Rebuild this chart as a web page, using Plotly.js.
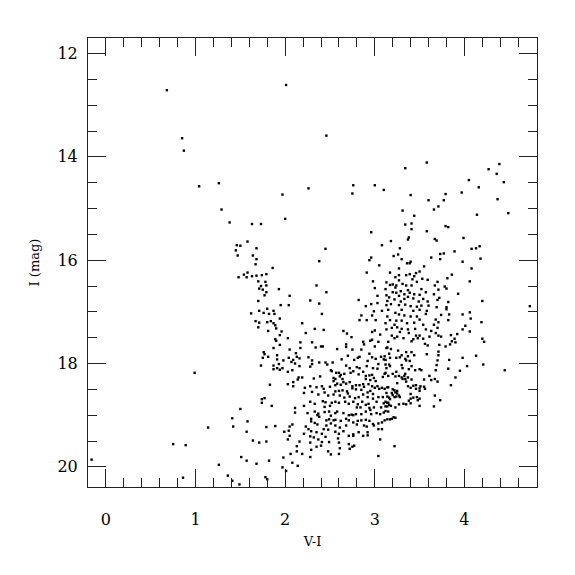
<!DOCTYPE html>
<html>
<head>
<meta charset="utf-8">
<script src="https://cdn.plot.ly/plotly-3.0.1.min.js"></script>
<style>html,body{margin:0;padding:0;background:#fff;}</style>
</head>
<body>
<div id="chart" style="width:575px;height:575px;"></div>
<script>
// V-I colour and I magnitude of each star
const viBright = [0.68,0.85,0.87,1.04,1.26,2.01,2.46,2.26,2.76,3.00,3.10,3.34,3.58,4.39,4.27,4.36,4.05,4.44,4.16,
  1.29,1.38,1.46,1.45,1.47,1.48];
const iBright = [12.71,13.64,13.88,14.57,14.51,12.61,13.59,14.61,14.55,14.55,14.64,14.22,14.11,14.14,14.24,14.33,14.45,14.49,14.59,
  15.02,15.27,15.71,15.81,15.91,16.33];

const viBlue = [2.75,1.97,2.00,1.63,1.73,2.96,1.58,3.08,1.50,1.68,2.45,1.64,2.96,2.94,1.68,2.38,1.67,3.05,1.86,2.91,
  1.58,1.54,1.79,1.74,1.57,1.63,1.68,2.98,1.70,1.78,1.73,1.79,2.35,1.71,3.00,1.75,1.79,1.93,2.46,1.77,
  2.05,3.03,2.82,1.70,2.28,2.38,1.95,2.04,2.96,3.03,2.90,1.80,1.71,1.87,1.76,1.82,1.88,1.62,2.41,2.99,
  3.08,2.97,2.85,1.94,1.67,1.71,1.80,1.84,1.87,1.89,1.90,1.70,1.81,1.96,1.94,2.19,2.23,2.33,2.43,2.65,
  2.69,2.74,2.83,2.91,3.01,2.97,3.00,3.06,2.03,1.89,2.97];
const iBlue = [14.71,14.73,15.20,15.30,15.30,15.46,15.64,15.71,15.72,15.77,15.78,15.91,15.95,16.00,15.98,16.02,16.08,16.10,16.15,16.24,
  16.24,16.28,16.27,16.29,16.33,16.31,16.30,16.41,16.41,16.42,16.50,16.49,16.49,16.55,16.54,16.57,16.62,16.56,16.62,16.68,
  16.69,16.69,16.77,16.79,16.78,16.84,16.87,16.87,16.85,16.83,16.89,16.94,16.98,16.98,17.02,17.04,17.04,17.03,17.04,16.99,
  16.98,17.07,17.07,17.13,17.18,17.21,17.20,17.18,17.22,17.26,17.32,17.30,17.37,17.38,17.45,17.22,17.41,17.33,17.35,17.37,
  17.42,17.49,17.16,17.16,17.16,17.39,17.36,17.44,17.51,17.53,17.54];

const viRed = [3.97,3.79,3.40,3.60,3.77,4.37,3.71,3.66,3.31,4.49,4.14,3.44,3.41,3.34,3.79,3.82,3.41,3.58,3.38,3.67,
  3.69,3.99,3.37,3.18,3.28,4.17,4.13,4.08,3.89,3.26,3.21,3.77,3.73,3.63,3.40,3.39,3.36,3.30,4.18,3.98,
  3.55,4.08,3.73,3.27,3.50,3.46,3.39,3.44,3.35,3.27,3.17,3.59,3.53,3.86,3.81,3.42,3.27,3.23,3.47,3.13,
  4.06,3.70,3.20,3.17,3.31,3.24,3.23,3.35,3.41,3.67,3.78,3.80,3.52,3.71,3.93,3.12,3.37,3.20,3.24,3.29,
  3.33,3.39,3.44,3.50,3.57,3.66,3.13,3.27,3.37,3.43,3.54,3.16,3.33,3.22,3.14,3.29,3.49,3.59,3.72,3.70,
  3.82,4.20,3.18,3.27,3.34,3.40,3.52,3.13,3.47,3.60,3.69,3.80,3.15,3.30,3.43,3.50,3.58,3.80,3.23,3.27,
  3.33,3.57,3.74,3.83,3.98,4.06,3.14,3.40,3.47,3.50,3.17,3.24,3.30,3.44,3.68,3.82,4.07,3.36,3.54,3.66,
  3.71,3.22,4.01,4.19,3.19,3.25,3.30,3.37,3.45,3.57,3.63,3.70,3.13,3.98,3.28,3.38,3.68,4.06,3.85,3.92,
  3.19,3.25,3.46,3.48,3.50,3.61,3.71,3.74,3.22,3.32,3.43,3.54,3.89,4.20,3.12,4.73];
const iRed = [14.69,14.72,14.74,14.84,14.84,14.82,14.96,15.02,15.04,15.09,15.12,15.14,15.29,15.31,15.34,15.36,15.40,15.44,15.56,15.59,
  15.62,15.57,15.60,15.63,15.77,15.73,15.77,15.78,15.83,15.89,15.92,15.87,15.88,15.95,16.03,16.06,16.06,15.98,15.97,16.03,
  16.12,16.16,15.98,16.16,16.22,16.25,16.27,16.31,16.29,16.29,16.24,16.38,16.36,16.28,16.35,16.37,16.39,16.33,16.42,16.43,
  16.41,16.42,16.47,16.48,16.46,16.49,16.53,16.49,16.49,16.49,16.51,16.55,16.56,16.57,16.65,16.56,16.58,16.62,16.63,16.60,
  16.66,16.63,16.66,16.67,16.62,16.66,16.68,16.69,16.71,16.74,16.75,16.72,16.75,16.76,16.79,16.80,16.80,16.80,16.73,16.77,
  16.81,16.79,16.85,16.87,16.86,16.89,16.88,16.87,16.90,16.88,16.91,16.91,16.96,16.96,16.98,16.96,16.98,16.95,17.02,17.05,
  17.07,17.04,17.06,17.05,17.05,17.01,17.09,17.09,17.09,17.15,17.16,17.17,17.17,17.21,17.15,17.16,17.13,17.22,17.25,17.25,
  17.20,17.25,17.27,17.20,17.31,17.30,17.33,17.34,17.33,17.34,17.37,17.31,17.34,17.34,17.39,17.41,17.41,17.38,17.45,17.43,
  17.46,17.48,17.46,17.51,17.46,17.48,17.46,17.48,17.51,17.51,17.53,17.52,17.52,17.52,17.22,16.89];

const viRedLow = [3.41,3.86,3.90,4.22,3.56,3.59,3.72,3.84,3.79,3.14,3.18,3.26,3.35,3.41,3.44,3.30,3.28,3.24,3.34,3.35,
  3.37,3.17,3.11,3.12,3.39,3.58,3.71,3.71,3.70,3.83,3.98,4.13,4.21,4.03,3.95,3.82,3.69,3.68,3.12,3.17,
  3.30,3.31,3.41,3.38,3.45,3.50,3.52,3.24,3.20,3.11,3.34,3.33,3.30,3.27,3.23,3.31,3.34,3.37,3.35,3.25,
  3.61,3.55,3.63,3.67,3.70,3.90,3.85,3.41,3.43,3.37,3.40,3.46,3.46,3.50,3.50,3.51,3.55,3.56,3.11,3.15,
  3.20,3.22,3.25,3.23,3.25,3.27,3.24,3.22,3.28,3.20,3.17,3.19,3.14,3.40,3.47,3.43,3.40,3.50,3.48,3.38,
  3.40,3.50,3.35,3.32,3.27,3.16,3.15,3.12,3.12,3.18,3.12,3.23,3.23,3.21,3.19,3.17,3.11,3.67,3.73,3.66,
  3.22,4.45];
const iRedLow = [17.57,17.57,17.59,17.58,17.62,17.65,17.64,17.63,17.67,17.69,17.72,17.75,17.78,17.78,17.84,17.84,17.88,17.89,17.91,17.94,
  17.86,17.89,17.86,17.93,17.95,17.82,17.77,17.84,17.94,17.93,17.89,17.85,18.02,18.05,18.14,18.10,18.03,18.13,18.02,18.05,
  18.03,18.09,18.05,18.11,18.13,18.11,18.13,18.16,18.20,18.20,18.20,18.24,18.27,18.24,18.25,18.30,18.30,18.27,18.35,18.38,
  18.24,18.31,18.32,18.30,18.35,18.27,18.42,18.31,18.43,18.44,18.47,18.42,18.49,18.48,18.53,18.44,18.45,18.49,18.49,18.46,
  18.50,18.52,18.53,18.56,18.58,18.62,18.64,18.65,18.65,18.61,18.69,18.57,18.64,18.59,18.65,18.66,18.68,18.68,18.71,18.72,
  18.77,18.82,18.79,18.78,18.79,18.80,18.76,18.74,18.83,18.82,18.92,18.85,19.05,19.04,19.07,19.08,19.10,18.62,18.71,18.83,
  19.60,18.13];

const viFaint = [1.90,2.17,2.30,2.87,2.88,2.95,2.68,3.04,3.15,1.94,1.87,2.05,2.17,2.34,2.40,2.42,2.58,2.68,2.75,2.85,
  3.00,3.13,1.76,1.77,1.91,2.12,2.04,2.13,2.16,2.09,2.07,2.26,2.30,2.63,2.70,2.81,2.83,2.77,2.94,2.97,
  2.92,3.01,3.07,3.10,3.16,1.75,1.81,1.91,1.98,1.73,1.87,1.93,1.91,1.87,1.97,1.94,2.03,2.08,2.16,2.11,
  2.30,2.28,2.38,2.45,2.47,2.53,2.68,2.72,2.80,2.83,2.91,2.98,3.04,3.03,3.13,3.16,2.15,2.19,2.14,2.09,
  2.09,2.03,2.32,2.39,2.51,2.52,2.57,2.60,2.62,2.66,2.54,2.56,2.54,2.61,2.64,2.73,2.76,2.82,2.87,2.90,
  2.94,2.97,2.99,2.90,2.95,3.01,3.09,3.12,3.15,1.83,2.22,2.28,2.35,2.41,2.43,2.50,2.56,2.58,2.62,2.65,
  2.68,2.72,2.75,2.79,2.83,2.87,2.88,2.93,2.97,3.03,3.05,3.14,2.75,2.79,2.85,2.95,3.00,3.08,2.21,2.30,
  2.37,2.44,2.48,2.54,2.56,2.60,2.64,2.69,2.70,2.61,2.66,2.72,2.78,2.82,2.87,2.92,2.98,3.04,3.09,3.13,
  3.16,2.98,2.92,1.74,1.77,1.74,1.85,2.28,2.33,2.42,2.45,2.52,2.56,2.60,2.67,2.71,2.76,2.81,2.86,2.90,
  2.93,3.02,3.10,3.14,2.84,2.80,2.94,2.99,3.07,3.14,2.50,2.44,1.50,2.11,2.21,2.25,2.11,2.33,2.37,2.38,
  2.36,2.44,2.49,2.51,2.56,2.58,2.65,2.71,2.74,2.76,2.79,2.85,2.90,2.96,3.02,3.06,3.10,3.15,2.95,1.58,
  2.29,2.29,2.33,2.36,2.46,2.49,2.54,2.56,2.51,2.46,2.56,2.62,2.68,2.71,2.76,2.81,2.85,2.90,2.94,2.98,
  3.04,3.08,3.14,2.68,2.80,2.88,2.91,2.99,3.08,1.79,1.89,2.05,2.08,2.23,2.26,2.29,2.35,2.43,2.41,2.48,
  2.61,2.65,2.56,2.45,2.76,2.60,2.71,2.76,2.82,2.87,2.92,2.92,3.04,1.57,1.99,2.04,2.05,2.03,2.21,2.28,
  2.32,2.37,2.28,2.40,2.41,2.49,2.35,2.29,2.16,2.13,2.13,2.19,2.48,2.51,2.59,2.60,2.61,2.60,2.71,2.75,
  2.77,2.72,3.06,1.64,1.71,1.79,1.51,1.57,1.68,1.82,1.98,2.06,2.08,2.14,1.97,2.01,1.78,2.28,3.04,1.80,
  0.99,1.41,1.42,1.14,0.75,0.89,-0.16,1.26,1.36,1.41,0.86,1.49];
const iFaint = [17.56,17.59,17.59,17.58,17.63,17.56,17.63,17.58,17.58,17.64,17.70,17.73,17.70,17.69,17.67,17.67,17.72,17.68,17.73,17.73,
  17.67,17.70,17.78,17.82,17.84,17.80,17.89,17.87,17.90,17.93,17.97,17.88,17.94,17.92,17.85,17.89,17.87,17.93,17.81,17.88,
  17.95,17.91,17.87,17.92,17.81,17.89,17.87,17.92,17.94,18.04,18.04,18.01,18.09,18.11,18.09,18.12,18.16,18.13,18.05,18.00,
  18.01,18.06,17.98,17.98,18.02,17.98,18.04,18.09,18.07,18.09,18.05,18.09,18.01,18.10,18.09,18.02,18.27,18.27,18.31,18.36,
  18.44,18.40,18.29,18.25,18.13,18.15,18.18,18.18,18.22,18.20,18.28,18.30,18.34,18.25,18.30,18.18,18.15,18.21,18.16,18.24,
  18.23,18.22,18.28,18.30,18.32,18.34,18.26,18.18,18.24,18.41,18.47,18.44,18.46,18.44,18.49,18.45,18.42,18.39,18.41,18.36,
  18.39,18.36,18.44,18.42,18.42,18.40,18.45,18.40,18.44,18.44,18.49,18.46,18.48,18.50,18.51,18.53,18.47,18.47,18.57,18.55,
  18.60,18.56,18.62,18.60,18.54,18.53,18.52,18.54,18.58,18.62,18.66,18.64,18.67,18.65,18.60,18.56,18.59,18.65,18.65,18.57,
  18.66,18.68,18.65,18.69,18.67,18.76,18.82,18.74,18.78,18.73,18.75,18.76,18.74,18.76,18.74,18.78,18.74,18.79,18.74,18.80,
  18.78,18.74,18.77,18.76,18.85,18.85,18.86,18.85,18.85,18.83,18.82,18.84,18.88,18.86,18.82,18.96,18.95,18.93,18.97,19.03,
  19.00,18.94,18.93,19.01,18.96,18.93,18.96,19.00,18.99,19.00,18.98,18.98,18.93,18.98,18.96,18.98,18.95,18.93,18.90,19.12,
  19.07,19.12,19.15,19.18,19.10,19.08,19.10,19.09,19.16,19.20,19.20,19.11,19.07,19.10,19.14,19.11,19.10,19.09,19.11,19.17,
  19.16,19.14,19.08,19.20,19.18,19.20,19.22,19.20,19.27,19.23,19.21,19.22,19.18,19.22,19.27,19.31,19.33,19.27,19.36,19.28,
  19.24,19.31,19.32,19.42,19.37,19.36,19.40,19.40,19.33,19.40,19.39,19.33,19.27,19.32,19.32,19.30,19.40,19.47,19.36,19.41,
  19.43,19.47,19.53,19.59,19.52,19.52,19.61,19.67,19.51,19.60,19.70,19.75,19.70,19.76,19.45,19.53,19.64,19.75,19.56,19.61,
  19.59,19.65,19.47,19.49,19.53,19.51,19.81,19.88,19.94,19.88,19.82,19.75,19.92,19.98,20.01,20.08,20.20,19.81,19.79,20.24,
  18.18,19.06,19.22,19.24,19.56,19.58,19.86,19.96,20.17,20.27,20.21,20.34];

const xTickLabels = ['0','1','2','3','4'];
const yTickLabels = ['12','14','16','18','20'];

const vi = [].concat(viBright, viBlue, viRed, viRedLow, viFaint);
const iMag = [].concat(iBright, iBlue, iRed, iRedLow, iFaint);

const axisColor = '#222';
const fontFam = 'DejaVu Serif, Liberation Serif, serif';

const trace = {
  type: 'scatter', mode: 'markers', x: vi, y: iMag,
  marker: {symbol: 'square', size: 2.4, color: '#000', line: {width: 0}},
  hoverinfo: 'skip'
};

const layout = {
  width: 575, height: 575,
  margin: {l: 88, r: 37.5, t: 37.7, b: 88.3, pad: 0},
  paper_bgcolor: '#fff', plot_bgcolor: '#fff',
  showlegend: false,
  font: {family: fontFam, color: '#000'},
  xaxis: {
    range: [-0.2, 4.81], autorange: false,
    tickmode: 'array', tickvals: [0,1,2,3,4], ticktext: xTickLabels,
    ticks: 'inside', ticklen: 18, tickwidth: 1, tickcolor: axisColor,
    minor: {tickmode: 'linear', tick0: 0, dtick: 0.2, ticks: 'inside', ticklen: 9, tickwidth: 1, tickcolor: axisColor, showgrid: false},
    showline: true, linecolor: axisColor, linewidth: 1, mirror: 'allticks',
    showgrid: false, zeroline: false,
    tickfont: {family: fontFam, size: 16, color: '#000'},
    ticklabelstandoff: 18,
    title: {text: 'V-I', font: {family: fontFam, size: 13, color: '#000'}, standoff: 8}
  },
  yaxis: {
    range: [20.39, 11.70], autorange: false,
    tickmode: 'array', tickvals: [12,14,16,18,20], ticktext: yTickLabels,
    ticks: 'inside', ticklen: 18, tickwidth: 1, tickcolor: axisColor,
    minor: {tickmode: 'linear', tick0: 12, dtick: 0.5, ticks: 'inside', ticklen: 9, tickwidth: 1, tickcolor: axisColor, showgrid: false},
    showline: true, linecolor: axisColor, linewidth: 1, mirror: 'allticks',
    showgrid: false, zeroline: false,
    tickfont: {family: fontFam, size: 16, color: '#000'},
    ticklabelstandoff: 6,
    title: {text: 'I (mag)', font: {family: fontFam, size: 13, color: '#000'}, standoff: 14}
  }
};

Plotly.newPlot('chart', [trace], layout, {staticPlot: true, displayModeBar: false});
</script>
</body>
</html>
